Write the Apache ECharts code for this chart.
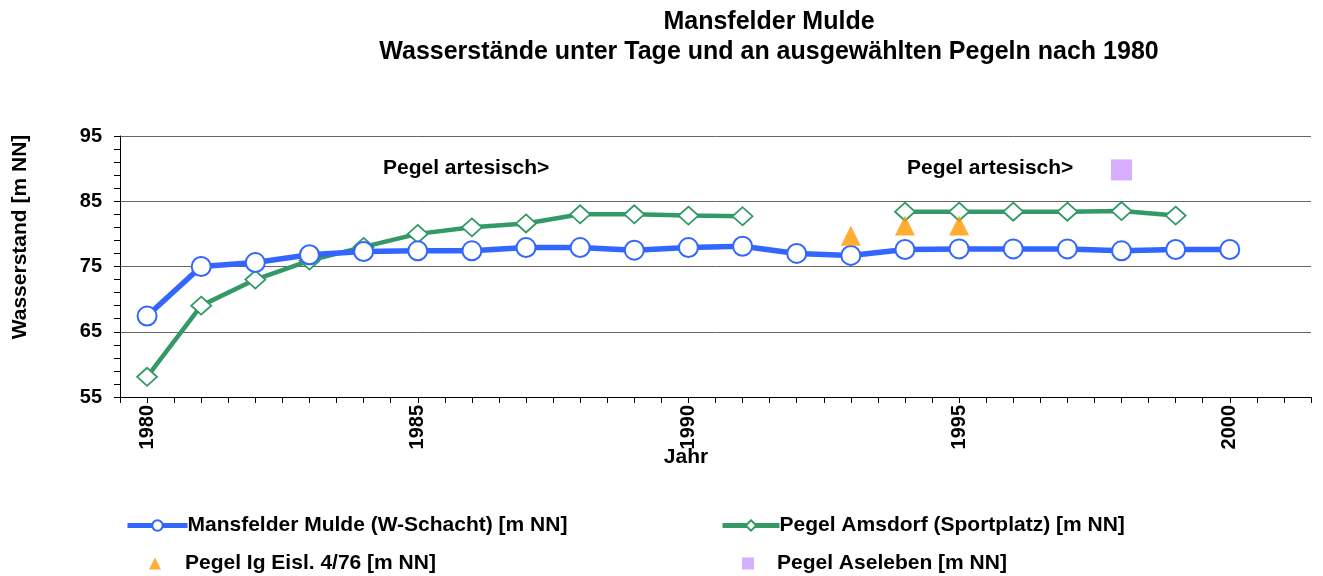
<!DOCTYPE html>
<html><head><meta charset="utf-8">
<script src="https://cdn.jsdelivr.net/npm/echarts@6/dist/echarts.min.js"></script>
<style>html,body{margin:0;padding:0;background:#fff}#c{width:1323px;height:576px}</style>
</head><body><div id="c"></div>
<script>
const years = [1980,1981,1982,1983,1984,1985,1986,1987,1988,1989,1990,1991,1992,1993,1994,1995,1996,1997,1998,1999,2000];
const wSchacht = [67.4,75.0,75.6,76.8,77.3,77.4,77.4,77.9,77.9,77.5,77.9,78.1,77.0,76.7,77.6,77.7,77.7,77.7,77.4,77.6,77.6];
const amsdorf = [58.1,69.0,73.0,75.9,78.0,80.0,81.0,81.6,83.0,83.0,82.8,82.7,null,null,83.4,83.4,83.4,83.4,83.5,82.8,null];
const igYears = [1993,1994,1995];
const igEisl = [79.7,81.3,81.3];
const aseYears = [1998];
const aseleben = [89.8];
const names = ['Mansfelder Mulde (W-Schacht) [m NN]','Pegel Amsdorf (Sportplatz) [m NN]','Pegel Ig Eisl. 4/76 [m NN]','Pegel Aseleben [m NN]'];
const annot = 'Pegel artesisch>';

const font = 'Liberation Sans, Arial, sans-serif';
const pair = (xs, ys) => xs.map((x,i)=>[x, ys[i]]);
const legTxt = (pl) => ({fontFamily:font,fontWeight:'bold',fontSize:21,color:'#000',padding:[0,0,0,pl]});
const chart = echarts.init(document.getElementById('c'));
chart.setOption({
  animation:false,
  backgroundColor:'#fff',
  textStyle:{fontFamily:font},
  title:{
    text:'Mansfelder Mulde\nWasserstände unter Tage und an ausgewählten Pegeln nach 1980',
    left:764, top:2, textAlign:'center',
    textStyle:{fontFamily:font,fontWeight:'bold',fontSize:25,color:'#000',lineHeight:30}
  },
  grid:{left:120,right:12,top:136,bottom:179},
  xAxis:{
    type:'value', min:1979.5, max:2001.5, interval:0.5,
    axisLine:{lineStyle:{color:'#000',width:1}},
    axisTick:{show:true,length:6,lineStyle:{color:'#000'}},
    axisLabel:{rotate:90,margin:8,fontFamily:font,fontWeight:'bold',fontSize:20,color:'#000',
      formatter:v=> (Math.abs(v%5)<1e-9 ? String(v) : '')},
    splitLine:{show:false}
  },
  yAxis:{
    type:'value', min:55, max:95, interval:10,
    axisLine:{show:true,lineStyle:{color:'#000',width:1}},
    axisTick:{show:true,length:6,lineStyle:{color:'#000'}},
    minorTick:{show:true,splitNumber:5,length:6,lineStyle:{color:'#000'}},
    axisLabel:{margin:18,fontFamily:font,fontWeight:'bold',fontSize:20,color:'#000'},
    splitLine:{show:true,lineStyle:{color:'#666',width:1}}
  },
  legend:[
    {left:125, top:515, padding:0, itemWidth:60, itemHeight:13, lineStyle:{width:5}, data:[names[0]], textStyle:legTxt(-5)},
    {left:149, top:553, padding:0, itemWidth:12, itemHeight:12, data:[names[2]], textStyle:legTxt(19)},
    {left:720, top:515, padding:0, itemWidth:57, itemHeight:13, lineStyle:{width:5}, data:[names[1]], textStyle:legTxt(-5)},
    {left:742, top:553, padding:0, itemWidth:12, itemHeight:12, data:[names[3]], textStyle:legTxt(18)}
  ],
  graphic:[
    {type:'text', left:383, top:158, style:{text:annot, font:'bold 21px '+font, fill:'#000'}},
    {type:'text', left:907, top:158, style:{text:annot, font:'bold 21px '+font, fill:'#000'}},
    {type:'text', x:20, y:237, rotation:Math.PI/2,
     style:{text:'Wasserstand [m NN]', font:'bold 21px '+font, fill:'#000', align:'center', verticalAlign:'middle'}},
    {type:'text', x:686, y:457,
     style:{text:'Jahr', font:'bold 21px '+font, fill:'#000', align:'center', verticalAlign:'middle'}}
  ],
  series:[
    {name:names[1], type:'line', data:pair(years, amsdorf), connectNulls:false,
     symbol:'diamond', symbolSize:[20,18], showAllSymbol:true,
     lineStyle:{color:'#339966',width:4.5},
     itemStyle:{color:'#fff',borderColor:'#339966',borderWidth:1.8}, z:3},
    {name:names[0], type:'line', data:pair(years, wSchacht),
     symbol:'circle', symbolSize:19, showAllSymbol:true,
     lineStyle:{color:'#3366ff',width:5.5},
     itemStyle:{color:'#fff',borderColor:'#3366ff',borderWidth:2}, z:4},
    {name:names[2], type:'scatter', data:pair(igYears, igEisl),
     symbol:'triangle', symbolSize:20, itemStyle:{color:'#ff9900'}, z:5},
    {name:names[3], type:'scatter', data:pair(aseYears, aseleben),
     symbol:'rect', symbolSize:21, itemStyle:{color:'#cc99ff'}, z:5}
  ]
});
</script></body></html>
